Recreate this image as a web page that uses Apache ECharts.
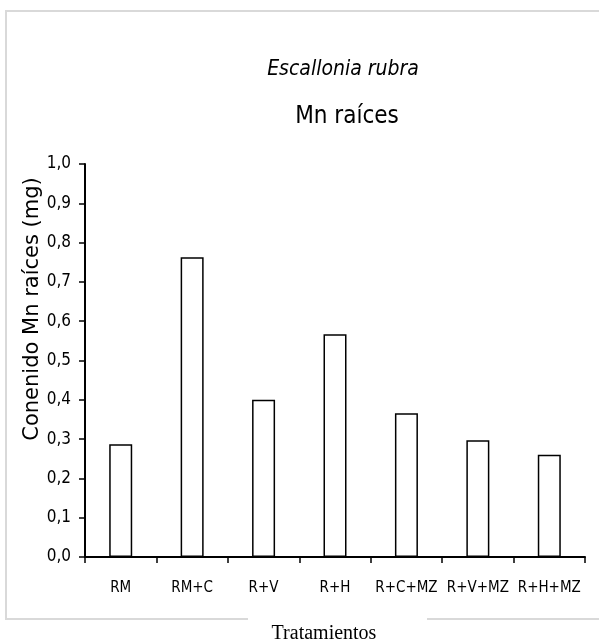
<!DOCTYPE html>
<html>
<head>
<meta charset="utf-8">
<script src="https://cdn.jsdelivr.net/npm/echarts@6/dist/echarts.min.js"></script>
<style>
  html, body { margin: 0; padding: 0; background: #fff; }
  #chart { width: 599px; height: 641px; }
</style>
</head>
<body>
<div id="chart"></div>
<script>
// Manganese content in roots of Escallonia rubra per treatment
const categories = ['RM', 'RM+C', 'R+V', 'R+H', 'R+C+MZ', 'R+V+MZ', 'R+H+MZ'];
const mnContent = [0.287, 0.763, 0.400, 0.567, 0.366, 0.297, 0.260];
const yTicks = { min: 0, max: 1, step: 0.1 };

const condensed = "'DejaVu Sans Condensed', 'Liberation Sans Narrow', sans-serif";

const chart = echarts.init(document.getElementById('chart'), null, { renderer: 'canvas' });

chart.setOption({
  animation: false,
  backgroundColor: '#ffffff',
  title: [
    {
      text: 'Escallonia rubra',
      left: 338, top: 54, textAlign: 'center',
      textStyle: { fontFamily: condensed, fontStyle: 'italic', fontWeight: 'normal', fontSize: 21, color: '#000' }
    },
    {
      text: 'Mn raíces',
      left: 342, top: 100, textAlign: 'center',
      textStyle: { fontFamily: condensed, fontWeight: 'normal', fontSize: 24, color: '#000' }
    }
  ],
  grid: { left: 85, right: 14, top: 164, bottom: 84, containLabel: false },
  xAxis: {
    type: 'category',
    data: categories,
    axisLine: { lineStyle: { color: '#000', width: 2 } },
    axisTick: { show: true, length: 6, alignWithLabel: false, lineStyle: { color: '#000', width: 1.5 } },
    axisLabel: { interval: 0, hideOverlap: false, margin: 24, fontFamily: condensed, fontSize: 15, color: '#000' }
  },
  yAxis: {
    type: 'value',
    min: yTicks.min, max: yTicks.max, interval: yTicks.step,
    splitLine: { show: false },
    axisLine: { show: true, lineStyle: { color: '#000', width: 2 } },
    axisTick: { show: true, length: 6, lineStyle: { color: '#000', width: 1.5 } },
    axisLabel: {
      margin: 14, fontFamily: condensed, fontSize: 17, color: '#000',
      formatter: v => v.toFixed(1).replace('.', ',')
    }
  },
  series: [{
    type: 'bar',
    data: mnContent,
    barWidth: 23,
    itemStyle: { color: '#ffffff', borderColor: '#000', borderWidth: 1.5 }
  }],
  graphic: [
    // outer frame
    {
      type: 'rect', silent: true, z: -1,
      shape: { x: 6, y: 11, width: 600, height: 608 },
      style: { fill: 'none', stroke: '#d9d9d9', lineWidth: 2 }
    },
    // break in the frame behind the axis title
    {
      type: 'rect', silent: true, z: 0,
      shape: { x: 248, y: 615, width: 179, height: 8 },
      style: { fill: '#ffffff', stroke: null }
    },
    {
      type: 'text', z: 5,
      x: 324, y: 624,
      style: {
        text: 'Tratamientos', fontFamily: "'Liberation Serif', 'Times New Roman', serif",
        fontSize: 20, fill: '#000', textAlign: 'center', textVerticalAlign: 'top'
      }
    },
    {
      type: 'text', z: 5,
      x: 33, y: 309, rotation: Math.PI / 2,
      style: {
        text: 'Conenido Mn raíces (mg)', fontFamily: "'DejaVu Sans', Verdana, sans-serif",
        fontSize: 21, fill: '#000', textAlign: 'center', textVerticalAlign: 'middle'
      }
    }
  ]
});
</script>
</body>
</html>
